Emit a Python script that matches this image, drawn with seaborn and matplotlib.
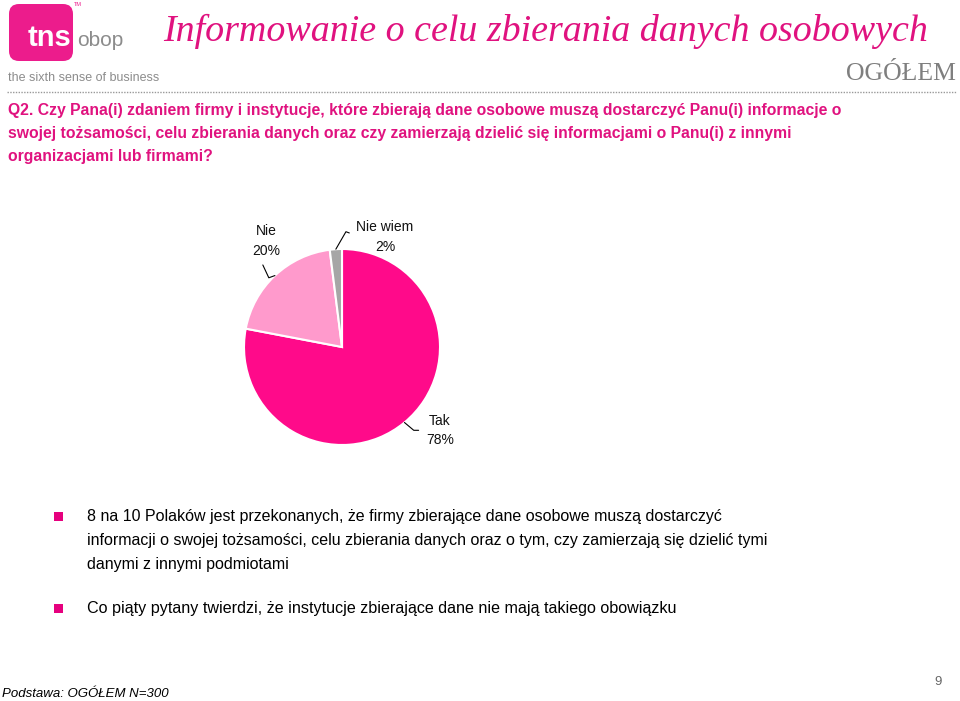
import numpy as np
import matplotlib
matplotlib.use("Agg")
import matplotlib.pyplot as plt
from matplotlib.patches import FancyBboxPatch, Rectangle
import seaborn as sns

# ---- data ----
categories = ["Tak", "Nie", "Nie wiem"]
values = [78, 20, 2]
pct_labels = ["78%", "20%", "2%"]
colors = ["#FF0A8A", "#FF9ACC", "#A6A6A6"]

title = "Informowanie o celu zbierania danych osobowych"
question_lines = [
    "Q2. Czy Pana(i) zdaniem firmy i instytucje, które zbierają dane osobowe muszą dostarczyć Panu(i) informacje o",
    "swojej tożsamości, celu zbierania danych oraz czy zamierzają dzielić się informacjami o Panu(i) z innymi",
    "organizacjami lub firmami?",
]
bullet1 = [
    "8 na 10 Polaków jest przekonanych, że firmy zbierające dane osobowe muszą dostarczyć",
    "informacji o swojej tożsamości, celu zbierania danych oraz o tym, czy zamierzają się dzielić tymi",
    "danymi z innymi podmiotami",
]
bullet2 = ["Co piąty pytany twierdzi, że instytucje zbierające dane nie mają takiego obowiązku"]

sns.set_theme(style="white")
plt.rcParams["font.family"] = ["Liberation Sans", "DejaVu Sans"]

W, H = 960, 701
fig = plt.figure(figsize=(W / 100, H / 100), dpi=100)
fig.patch.set_facecolor("white")

def fx(x):
    return x / W

def fy(y):
    return 1 - y / H

PINK = "#E0127F"

# ---- logo & decorations ----
logo_ax = fig.add_axes([0, 0, 1, 1], zorder=0)
logo_ax.set_xlim(0, W)
logo_ax.set_ylim(H, 0)
logo_ax.axis("off")
logo_ax.add_patch(FancyBboxPatch((9, 4), 64, 57, boxstyle="round,pad=0,rounding_size=10",
                                 facecolor="#EC1C8C", edgecolor="none"))
logo_ax.text(49, 38, "tns", color="white", fontsize=21, fontweight="bold", ha="center", va="center")
logo_ax.text(77, 40, "obop", color="#8C8C8C", fontsize=15, ha="left", va="center")
logo_ax.text(74, 4, "TM", color="#EC1C8C", fontsize=4, ha="left", va="center")
logo_ax.text(8, 78, "the sixth sense of business", color="#8C8C8C", fontsize=9, ha="left", va="center")
logo_ax.plot([7, 957], [92, 92], color="#999999", linestyle=(0, (1, 1)), linewidth=1.0)
for by in (517, 609):
    logo_ax.add_patch(Rectangle((54, by - 5), 9, 9, facecolor="#E6007E", edgecolor="none"))

# ---- header texts ----
fig.text(fx(163), fy(31), title, family=["Liberation Serif", "DejaVu Serif"], style="italic",
         fontsize=27.4, color=PINK, ha="left", va="center")
fig.text(fx(956), fy(74), "OGÓŁEM", family=["Liberation Serif", "DejaVu Serif"],
         fontsize=18.5, color="#7F7F7F", ha="right", va="center")
for i, line in enumerate(question_lines):
    fig.text(fx(8), fy(110 + i * 23.5), line, fontsize=11.35, fontweight="bold", color=PINK,
             ha="left", va="center")

# ---- pie ----
cx, cy, r = 342, 347, 98
pie_ax = fig.add_axes([fx(cx - r), fy(cy + r), 2 * r / W, 2 * r / H], zorder=2)
wedges, _ = pie_ax.pie(values, colors=colors, startangle=90, counterclock=False,
                       wedgeprops=dict(edgecolor="white", linewidth=1.5))
pie_ax.set_xlim(-1, 1)
pie_ax.set_ylim(-1, 1)
pie_ax.set_aspect("auto")
pie_ax.axis("off")

label_pos = {"Tak": (1.0, -0.85), "Nie": (-0.77, 1.08), "Nie wiem": (0.44, 1.12)}
relpos = {"Tak": (0.0, 0.5), "Nie": (0.25, 0.0), "Nie wiem": (0.0, 0.55)}
conn = {"Tak": "angle,angleA=0,angleB=-40,rad=0",
        "Nie": "angle,angleA=-65,angleB=20,rad=0",
        "Nie wiem": "angle,angleA=-20,angleB=60,rad=0"}
for w, cat, pl in zip(wedges, categories, pct_labels):
    ang = np.deg2rad((w.theta1 + w.theta2) / 2)
    x, y = np.cos(ang), np.sin(ang)
    pie_ax.annotate(f"{cat}\n{pl}", xy=(x, y), xytext=label_pos[cat],
                    ha="center", va="center", fontsize=10, color="#111111",
                    linespacing=1.5, annotation_clip=False,
                    arrowprops=dict(arrowstyle="-", color="black", lw=0.8,
                                    shrinkA=3, shrinkB=0, relpos=relpos[cat],
                                    connectionstyle=conn[cat]))

# ---- bullet texts ----
for i, line in enumerate(bullet1):
    fig.text(fx(87), fy(517 + i * 24), line, fontsize=11.5, color="black", ha="left", va="center")
fig.text(fx(87), fy(609), bullet2[0], fontsize=11.6, color="black", ha="left", va="center")

# ---- footer ----
fig.text(fx(2), fy(694), "Podstawa: OGÓŁEM N=300", fontsize=9.5, style="italic",
         color="black", ha="left", va="center")
fig.text(fx(938), fy(682), "9", fontsize=9.5, color="#666666", ha="center", va="center")

fig.savefig("out.png", dpi=100, facecolor="white")
